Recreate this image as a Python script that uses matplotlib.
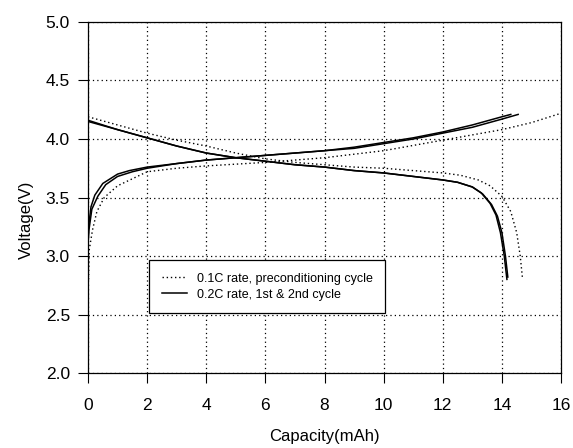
import numpy as np
import matplotlib.pyplot as plt

plt.rcParams['font.family'] = ['Liberation Sans', 'DejaVu Sans']

# 0.1C preconditioning cycle (dotted)
cap_chg_01 = [0.02, 0.04, 0.15, 0.3, 0.55, 1.0, 2.0, 3.0, 4.0, 6.0, 8.0, 10.0, 12.0, 14.0, 15.0, 16.0]
v_chg_01 = [2.80, 3.05, 3.22, 3.38, 3.50, 3.60, 3.72, 3.75, 3.77, 3.80, 3.84, 3.90, 3.99, 4.08, 4.14, 4.22]
cap_dis_01 = [0, 1, 2, 3, 4, 5, 6, 7, 8, 9, 10, 11, 12, 12.6, 13.2, 13.6, 14.0, 14.3, 14.5, 14.62, 14.7]
v_dis_01 = [4.19, 4.12, 4.05, 3.99, 3.94, 3.88, 3.83, 3.80, 3.78, 3.76, 3.75, 3.73, 3.71, 3.69, 3.65, 3.60, 3.51, 3.38, 3.20, 3.00, 2.80]

# 0.2C, 1st cycle (solid)
cap_chg_1 = [0.0, 0.02, 0.1, 0.23, 0.5, 1.0, 1.4, 2.0, 3.0, 4.0, 5.0, 6.0, 7.0, 8.0, 9.0, 10.0, 11.0, 12.0, 13.0, 14.0, 14.3]
v_chg_1 = [3.10, 3.25, 3.42, 3.52, 3.62, 3.70, 3.73, 3.76, 3.79, 3.82, 3.84, 3.86, 3.88, 3.90, 3.93, 3.97, 4.01, 4.06, 4.12, 4.19, 4.21]
cap_dis_1 = [0, 1, 2, 3, 4, 5, 6, 7, 8, 9, 10, 11, 12, 12.5, 13.0, 13.3, 13.6, 13.8, 13.95, 14.08, 14.17]
v_dis_1 = [4.15, 4.08, 4.01, 3.94, 3.88, 3.84, 3.81, 3.78, 3.76, 3.73, 3.71, 3.68, 3.65, 3.63, 3.59, 3.54, 3.45, 3.35, 3.20, 3.00, 2.80]

# 0.2C, 2nd cycle (solid)
cap_chg_2 = [0.0, 0.03, 0.13, 0.33, 0.6, 1.0, 1.5, 2.0, 3.0, 4.0, 5.0, 6.0, 7.0, 8.0, 9.0, 10.0, 11.0, 12.0, 13.0, 14.0, 14.55]
v_chg_2 = [3.10, 3.22, 3.40, 3.51, 3.61, 3.68, 3.72, 3.75, 3.79, 3.82, 3.84, 3.86, 3.88, 3.90, 3.92, 3.96, 4.00, 4.05, 4.10, 4.17, 4.21]
cap_dis_2 = [0, 1, 2, 3, 4, 5, 6, 7, 8, 9, 10, 11, 12, 12.5, 13.0, 13.35, 13.65, 13.85, 14.0, 14.12, 14.2]
v_dis_2 = [4.16, 4.08, 4.01, 3.94, 3.88, 3.84, 3.81, 3.78, 3.76, 3.73, 3.71, 3.68, 3.65, 3.63, 3.59, 3.53, 3.44, 3.34, 3.20, 3.00, 2.82]

xticks = [0, 2, 4, 6, 8, 10, 12, 14, 16]
yticks = [2.0, 2.5, 3.0, 3.5, 4.0, 4.5, 5.0]

fig = plt.figure(figsize=(5.73, 4.48), dpi=100)
ax = fig.add_axes([0.1536, 0.1674, 0.8255, 0.7835])

ax.plot(cap_chg_01, v_chg_01, color='black', ls=(0, (1, 2)), lw=1.0,
        label='0.1C rate, preconditioning cycle')
ax.plot(cap_dis_01, v_dis_01, color='black', ls=(0, (1, 2)), lw=1.0)
ax.plot(cap_chg_1, v_chg_1, color='black', lw=1.1, label='0.2C rate, 1st & 2nd cycle')
ax.plot(cap_dis_1, v_dis_1, color='black', lw=1.1)
ax.plot(cap_chg_2, v_chg_2, color='black', lw=1.1)
ax.plot(cap_dis_2, v_dis_2, color='black', lw=1.1)

ax.set_xlim(0, 16)
ax.set_ylim(2.0, 5.0)
ax.set_xticks(xticks)
ax.set_yticks(yticks)
ax.set_yticklabels(['%.1f' % v for v in yticks])
ax.grid(True, color='black', ls=(0, (1, 2.5)), lw=0.9)
ax.tick_params(direction='out', length=7, width=0.8, labelsize=12.5)
ax.tick_params(axis='x', pad=11)
ax.tick_params(axis='y', pad=6)
for s in ax.spines.values():
    s.set_linewidth(0.9)

ax.set_xlabel('Capacity(mAh)', fontsize=12)
ax.set_ylabel('Voltage(V)', fontsize=12)
ax.xaxis.set_label_coords(0.5, -0.16)
ax.yaxis.set_label_coords(-0.115, 0.436)

leg = ax.legend(loc='upper left', bbox_to_anchor=(0.129, 0.321), fontsize=9,
                frameon=True, fancybox=False, framealpha=1, edgecolor='black',
                handlelength=2.0, borderpad=1.0, labelspacing=0.3,
                handletextpad=0.8, borderaxespad=0)
leg.get_frame().set_linewidth(0.9)

fig.savefig('out.png', dpi=100)
